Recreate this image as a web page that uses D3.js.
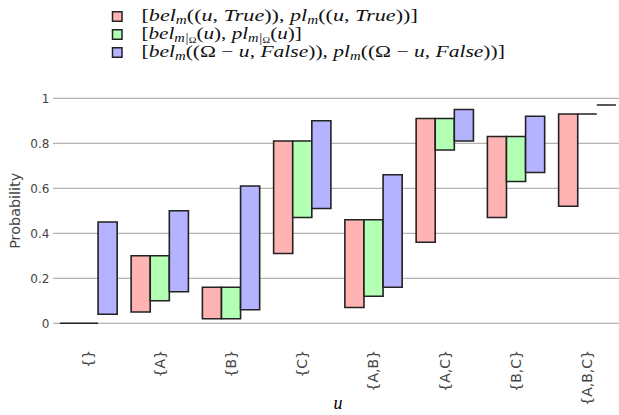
<!DOCTYPE html>
<html>
<head>
<meta charset="utf-8">
<script src="https://cdn.jsdelivr.net/npm/d3@7"></script>
<style>
  body { margin: 0; background: #fff; }
  .tick text { fill: #444; }
</style>
</head>
<body>
<script>
// chart size
var w = 619;
var h = 415;

// plot area
var pdL = 52.9;
var pdR = 622.9;
var yTop = 98.3;
var yBot = 323.3;

// data
var categories = ["{}", "{A}", "{B}", "{C}", "{A,B}", "{A,C}", "{B,C}", "{A,B,C}"];
var trueLo  = [0, 0.05, 0.02, 0.31, 0.07, 0.36, 0.47, 0.52];
var trueHi  = [0, 0.30, 0.16, 0.81, 0.46, 0.91, 0.83, 0.93];
var condLo  = [0, 0.10, 0.02, 0.47, 0.12, 0.77, 0.63, 0.93];
var condHi  = [0, 0.30, 0.16, 0.81, 0.46, 0.91, 0.83, 0.93];
var falseLo = [0.04, 0.14, 0.06, 0.51, 0.16, 0.81, 0.67, 0.97];
var falseHi = [0.45, 0.50, 0.61, 0.90, 0.66, 0.95, 0.92, 0.97];
var yTicks = [0, 0.2, 0.4, 0.6, 0.8, 1];

// series colours
var cols = ["#ffb3b3", "#b3ffb3", "#b3b3ff"];

// legend entries, as [text, style] tokens (r: roman, i: italic, s: subscript, ss: sub-subscript)
var legendRows = [
  [["[", "r"], ["bel", "i"], ["m", "s"], ["((", "r"], ["u", "i"], [",  ", "r"], ["True", "i"], [")), ", "r"],
   ["pl", "i"], ["m", "s"], ["((", "r"], ["u", "i"], [",  ", "r"], ["True", "i"], ["))]", "r"]],
  [["[", "r"], ["bel", "i"], ["m|", "s"], ["Ω", "ss"], ["(", "r"], ["u", "i"], ["), ", "r"],
   ["pl", "i"], ["m|", "s"], ["Ω", "ss"], ["(", "r"], ["u", "i"], [")]", "r"]],
  [["[", "r"], ["bel", "i"], ["m", "s"], ["((Ω − ", "r"], ["u", "i"], [",  ", "r"], ["False", "i"], [")), ", "r"],
   ["pl", "i"], ["m", "s"], ["((Ω − ", "r"], ["u", "i"], [",  ", "r"], ["False", "i"], ["))]", "r"]]
];
// right ends of the legend rows
var legendEnds = [418, 302, 505];

var series = [
  { lo: trueLo,  hi: trueHi,  col: cols[0] },
  { lo: condLo,  hi: condHi,  col: cols[1] },
  { lo: falseLo, hi: falseHi, col: cols[2] }
];

var svg = d3.select("body")
            .append("svg")
            .attr("width", w)
            .attr("height", h)
            .style("font-family", "'DejaVu Sans', Verdana, sans-serif");

// scales
var scaleX = d3.scaleBand()
               .domain(categories)
               .range([pdL, pdR])
               .paddingInner(0.196)
               .paddingOuter(0.098);

var scaleX1 = d3.scaleBand()
                .domain([0, 1, 2])
                .range([0, scaleX.bandwidth()]);

var scaleY = d3.scaleLinear()
               .domain([0, 1])
               .range([yBot, yTop]);

// gridlines
svg.append("g")
   .selectAll("line")
   .data(yTicks)
   .enter()
   .append("line")
   .attr("x1", pdL)
   .attr("x2", pdR)
   .attr("y1", function(d) { return scaleY(d); })
   .attr("y2", function(d) { return scaleY(d); })
   .attr("stroke", "#b4b4b4")
   .attr("stroke-width", 1.2);

// y-axis
var axisY = d3.axisLeft(scaleY)
              .tickValues(yTicks)
              .tickSize(0)
              .tickPadding(3)
              .tickFormat(d3.format("~g"));

svg.append("g")
   .attr("transform", "translate(" + (pdL - 0.5) + ",0)")
   .call(axisY)
   .call(function(g) { g.select(".domain").remove(); })
   .selectAll("text")
   .style("font-size", "12px")
   .style("font-family", "'DejaVu Sans', Verdana, sans-serif");

// bars (path so that zero-height bars still show as a line)
series.forEach(function(s, k) {
  svg.append("g")
     .selectAll("path")
     .data(categories)
     .enter()
     .append("path")
     .attr("d", function(c, i) {
        var x0 = scaleX(c) + scaleX1(k);
        var bw = scaleX1.bandwidth();
        var y0 = scaleY(s.hi[i]);
        var y1 = scaleY(s.lo[i]);
        return "M" + x0 + "," + y0 + "H" + (x0 + bw) + "V" + y1 + "H" + x0 + "Z";
     })
     .attr("fill", s.col)
     .attr("stroke", "#222")
     .attr("stroke-width", 1.6);
});

// x-axis
var axisX = d3.axisBottom(scaleX)
              .tickSize(0);

svg.append("g")
   .attr("transform", "translate(0," + 345 + ")")
   .call(axisX)
   .call(function(g) { g.select(".domain").remove(); })
   .selectAll("text")
   .attr("y", 0)
   .attr("x", -5)
   .attr("dy", "0.35em")
   .attr("transform", "rotate(-90)")
   .style("text-anchor", "end")
   .style("font-size", "14px")
   .style("font-family", "'DejaVu Sans', Verdana, sans-serif");

// axis titles
svg.append("text")
   .text("Probability")
   .attr("transform", "translate(20," + ((yTop + yBot) / 2) + ") rotate(-90)")
   .attr("text-anchor", "middle")
   .attr("fill", "#444")
   .style("font-size", "14.4px");

svg.append("text")
   .text("u")
   .attr("x", (pdL + pdR) / 2)
   .attr("y", 409)
   .attr("text-anchor", "middle")
   .style("font-family", "'Liberation Serif', serif")
   .style("font-style", "italic")
   .style("font-size", "18px");

// legend
var legY = [16.5, 34.5, 52.5];
var fs = 17.5;
var legX = 141.5;
legendRows.forEach(function(row, r) {
  svg.append("rect")
     .attr("x", 112.5)
     .attr("y", legY[r] - 4.75)
     .attr("width", 9.5)
     .attr("height", 9.5)
     .attr("fill", cols[r])
     .attr("stroke", "#222")
     .attr("stroke-width", 1.5);

  var t = svg.append("text")
             .attr("x", legX)
             .attr("y", legY[r] + 4.5)
             .style("font-family", "'Liberation Serif', serif")
             .style("font-size", fs + "px")
             .attr("fill", "#111");
  var shift = 0;
  row.forEach(function(tok) {
    var target = tok[1] === "s" ? 3 : (tok[1] === "ss" ? 4.5 : 0);
    var ts = t.append("tspan")
              .text(tok[0])
              .attr("dy", target - shift)
              .style("font-style", tok[1] === "r" ? "normal" : "italic")
              .style("font-size", tok[1] === "s" ? "12px" : (tok[1] === "ss" ? "8.5px" : fs + "px"));
    if (tok[0].indexOf("Ω") >= 0) { ts.style("font-style", "normal"); }
    shift = target;
  });

  // stretch sideways to the width of the wider math font
  var bw = t.node().getBBox().width;
  var sx = (legendEnds[r] - legX) / bw;
  t.attr("transform", "translate(" + legX + ",0) scale(" + sx + ",1) translate(" + (-legX) + ",0)");
});
</script>
</body>
</html>
